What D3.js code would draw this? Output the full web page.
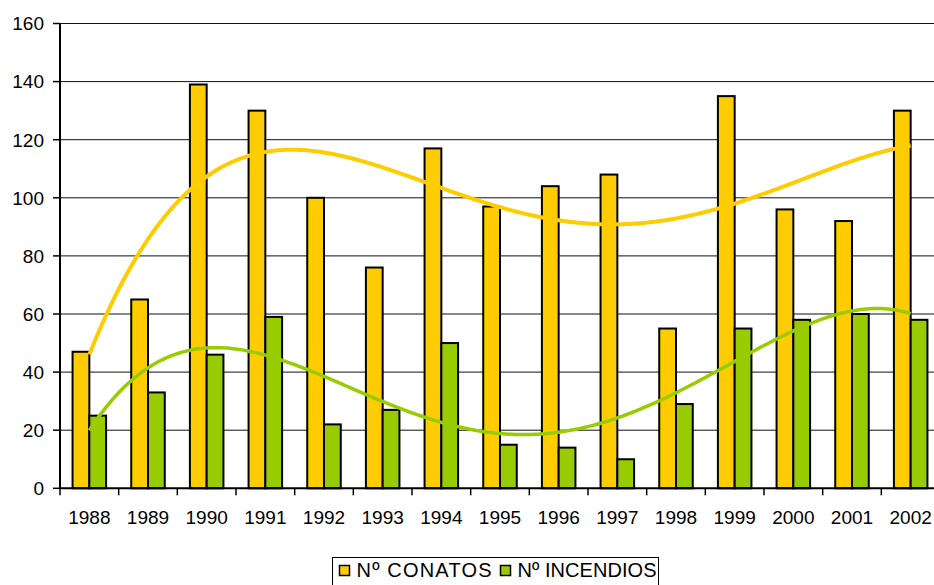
<!DOCTYPE html>
<html>
<head>
<meta charset="utf-8">
<script src="https://cdn.jsdelivr.net/npm/d3@7"></script>
<style>
  html, body { margin: 0; padding: 0; background: #fff; }
  svg { display: block; font-family: "Liberation Sans", Arial, sans-serif; }
</style>
</head>
<body>
<svg id="chart" width="934" height="585"></svg>
<script>
// Yearly counts
const years = ["1988","1989","1990","1991","1992","1993","1994","1995","1996","1997","1998","1999","2000","2001","2002"];
const conatos = [47, 65, 139, 130, 100, 76, 117, 97, 104, 108, 55, 135, 96, 92, 130];
const incendios = [25, 33, 46, 59, 22, 27, 50, 15, 14, 10, 29, 55, 58, 60, 58];
const yTicks = [0, 20, 40, 60, 80, 100, 120, 140, 160];
const seriesNames = ["Nº CONATOS", "Nº INCENDIOS"];
const seriesColors = ["#FFCC00", "#99CC00"];
const trendOrder = 4;

const svg = d3.select("#chart");

const x0 = d3.scaleBand().domain(years).range([60, 940]).paddingInner(0).paddingOuter(0);
const x1 = d3.scaleBand().domain([0, 1]).range([0, x0.bandwidth()]).paddingInner(0).paddingOuter(0.75);
const y = d3.scaleLinear().domain([0, 160]).range([488.3, 23.5]);

// Gridlines
svg.append("g").selectAll("line").data(yTicks.filter(d => d > 0)).join("line")
  .attr("x1", 60).attr("x2", 940)
  .attr("y1", d => y(d)).attr("y2", d => y(d))
  .attr("stroke", "#111").attr("stroke-width", 1);

// Bars
const seriesData = [conatos, incendios];
const groups = svg.append("g").selectAll("g").data(years).join("g")
  .attr("transform", d => `translate(${x0(d)},0)`);
groups.selectAll("rect").data((d, i) => seriesData.map((s, k) => ({k, v: s[i]}))).join("rect")
  .attr("x", d => x1(d.k))
  .attr("width", x1.bandwidth())
  .attr("y", d => y(d.v))
  .attr("height", d => y(0) - y(d.v))
  .attr("fill", d => seriesColors[d.k])
  .attr("stroke", "#000").attr("stroke-width", 2);

// Polynomial least-squares trendline (x = 1..n, centred for stability)
function polyFit(vals, order) {
  const n = vals.length, c = (n + 1) / 2, s = (n - 1) / 2;
  const ts = vals.map((_, i) => ((i + 1) - c) / s);
  const m = order + 1;
  const A = Array.from({length: m}, () => new Array(m + 1).fill(0));
  ts.forEach((t, i) => {
    for (let r = 0; r < m; r++) {
      for (let q = 0; q < m; q++) A[r][q] += Math.pow(t, r + q);
      A[r][m] += Math.pow(t, r) * vals[i];
    }
  });
  for (let p = 0; p < m; p++) {
    let best = p;
    for (let r = p + 1; r < m; r++) if (Math.abs(A[r][p]) > Math.abs(A[best][p])) best = r;
    [A[p], A[best]] = [A[best], A[p]];
    for (let r = 0; r < m; r++) {
      if (r === p) continue;
      const f = A[r][p] / A[p][p];
      for (let q = p; q <= m; q++) A[r][q] -= f * A[p][q];
    }
  }
  const coef = A.map((row, i) => row[m] / row[i]);
  return xi => {
    const t = (xi - c) / s;
    return coef.reduce((acc, a, k) => acc + a * Math.pow(t, k), 0);
  };
}

const xt = d3.scaleLinear().domain([1, years.length])
  .range([x0(years[0]) + x0.bandwidth() / 2, x0(years[years.length - 1]) + x0.bandwidth() / 2]);
const samples = d3.range(1, years.length + 0.0001, 0.05);
const line = d3.line().x(d => xt(d[0])).y(d => y(d[1])).curve(d3.curveLinear);
seriesData.forEach((s, k) => {
  const f = polyFit(s, trendOrder);
  svg.append("path")
    .attr("d", line(samples.map(v => [v, f(v)])))
    .attr("fill", "none")
    .attr("stroke", seriesColors[k])
    .attr("stroke-width", k === 0 ? 4 : 3.5)
    .attr("stroke-linecap", "butt");
});

// Y axis
const yAxis = svg.append("g");
yAxis.append("line").attr("x1", 60).attr("x2", 60).attr("y1", y(160)).attr("y2", y(0))
  .attr("stroke", "#000").attr("stroke-width", 2);
yAxis.selectAll("line.tick").data(yTicks).join("line").attr("class", "tick")
  .attr("x1", 53).attr("x2", 60).attr("y1", d => y(d)).attr("y2", d => y(d))
  .attr("stroke", "#000").attr("stroke-width", 1.5);
yAxis.selectAll("text").data(yTicks).join("text")
  .attr("x", 44).attr("y", d => y(d) + 6.8)
  .attr("text-anchor", "end").attr("font-size", 19).attr("fill", "#000")
  .text(d => d);

// X axis
const xAxis = svg.append("g");
xAxis.append("line").attr("x1", 60).attr("x2", 940).attr("y1", y(0)).attr("y2", y(0))
  .attr("stroke", "#000").attr("stroke-width", 2);
xAxis.selectAll("line.tick").data(years).join("line").attr("class", "tick")
  .attr("x1", d => x0(d)).attr("x2", d => x0(d)).attr("y1", y(0)).attr("y2", y(0) + 7)
  .attr("stroke", "#000").attr("stroke-width", 1.5);
xAxis.selectAll("text").data(years).join("text")
  .attr("x", d => x0(d) + x0.bandwidth() / 2).attr("y", 524)
  .attr("text-anchor", "middle").attr("font-size", 19).attr("fill", "#000")
  .text(d => d);

// Legend
const legend = svg.append("g");
legend.append("rect").attr("x", 332.5).attr("y", 557.5).attr("width", 326).attr("height", 40)
  .attr("fill", "#fff").attr("stroke", "#000").attr("stroke-width", 1);
const legendX = [339.5, 500.5];
const legendTextLen = [135, 139];
seriesNames.forEach((name, k) => {
  legend.append("rect").attr("x", legendX[k]).attr("y", 565.5).attr("width", 10).attr("height", 10)
    .attr("fill", seriesColors[k]).attr("stroke", "#000").attr("stroke-width", 1.5);
  legend.append("text").attr("x", legendX[k] + 17).attr("y", 577)
    .attr("font-size", 20).attr("fill", "#000")
    .attr("textLength", legendTextLen[k]).attr("lengthAdjust", "spacing")
    .text(name);
});
</script>
</body>
</html>
